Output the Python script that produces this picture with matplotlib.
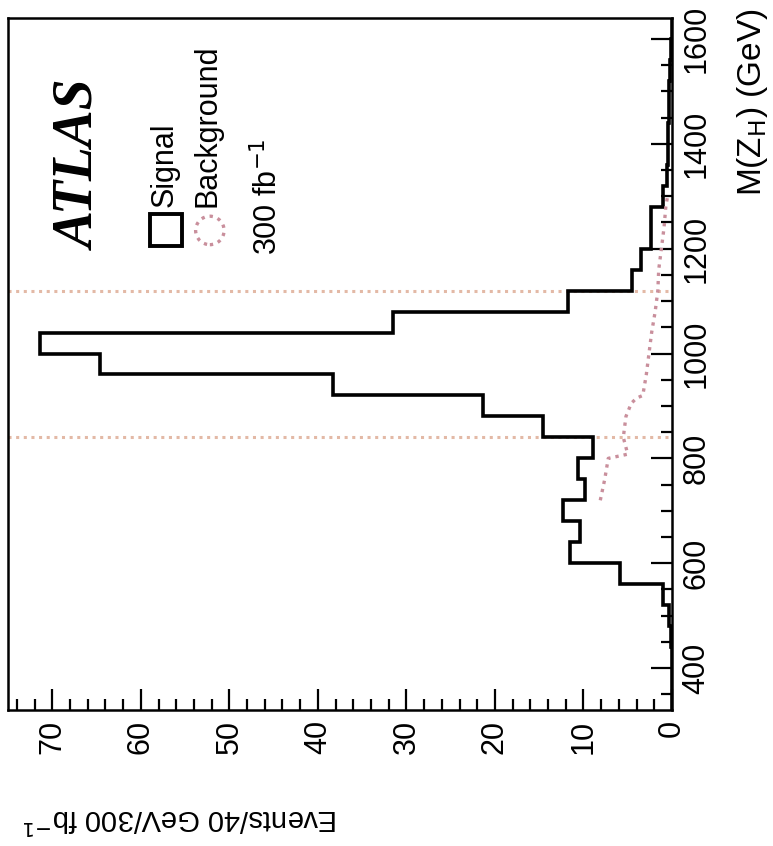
import matplotlib.pyplot as plt
from matplotlib.ticker import MultipleLocator

plt.rcParams['font.family'] = ['Liberation Sans', 'DejaVu Sans']

# M(Z_H) histogram, 40 GeV bins (lower edges + final upper edge)
bin_edges = [320, 360, 400, 440, 480, 520, 560, 600, 640, 680, 720, 760, 800,
             840, 880, 920, 960, 1000, 1040, 1080, 1120, 1160, 1200, 1240,
             1280, 1320, 1360, 1400, 1440, 1480, 1520, 1560, 1600, 1640]
signal = [0, 0, 0, 0.1, 0.3, 1.0, 5.9, 11.5, 10.4, 12.3, 9.8, 10.6, 8.9,
          14.6, 21.3, 38.3, 64.6, 71.4, 31.5, 11.7, 4.5, 3.5, 2.4, 2.4,
          1.0, 0.6, 0.5, 0.4, 0.3, 0.3, 0.2, 0.1, 0]

# background curve (dotted)
bkg_mass = [720, 760, 800, 808, 840, 880, 905, 915, 920, 960, 1000, 1040,
            1080, 1120, 1160, 1200, 1240, 1280, 1300]
bkg_events = [8.1, 7.6, 7.2, 5.0, 5.5, 5.2, 4.6, 4.0, 3.3, 2.9, 2.6, 2.3,
              1.9, 1.6, 1.5, 1.2, 0.9, 0.7, 0.5]

# mass window
window = [840, 1120]

W, H = 773, 846
fig = plt.figure(figsize=(W / 100, H / 100), dpi=100)
ax = fig.add_axes([8 / W, 1 - 710 / H, 664 / W, 692 / H])

# plot is drawn rotated: events run right-to-left, mass runs upward
ax.stairs(signal, bin_edges, orientation='horizontal', color='black', lw=2.6)
ax.plot(bkg_events, bkg_mass, ls=(0, (1, 1.5)), color='#c98f9c', lw=2.4)
for m in window:
    ax.axhline(m, ls=(0, (1, 1.5)), color='#e3b9a6', lw=2.2, zorder=0)

ax.set_xlim(75, 0)
ax.set_ylim(320, 1640)
ax.xaxis.set_major_locator(MultipleLocator(10))
ax.xaxis.set_minor_locator(MultipleLocator(2))
ax.yaxis.set_major_locator(MultipleLocator(200))
ax.yaxis.set_minor_locator(MultipleLocator(50))
ax.yaxis.tick_right()
ax.tick_params(which='both', direction='in', width=1.6, top=False, left=False)
ax.tick_params(which='major', length=15, labelsize=22, pad=7)
ax.tick_params(which='minor', length=8)
for lab in ax.get_xticklabels():
    lab.set_rotation(90)
for lab in ax.get_yticklabels():
    lab.set_rotation(90)
    lab.set_va('center')
for s in ax.spines.values():
    s.set_linewidth(1.8)

# axis titles
fig.text(753 / W, 1 - 8 / H, 'M(Z$_{\\rm H}$) (GeV)', rotation=90,
         ha='center', va='top', fontsize=24)
fig.text(180 / W, 1 - 818 / H, 'Events/40 GeV/300 fb$^{-1}$', rotation=180,
         ha='center', va='center', fontsize=21)

# ATLAS label and legend
fig.text(80 / W, 1 - 165 / H, 'ATLAS', rotation=90, ha='center', va='center',
         fontsize=40, family='Liberation Serif', weight='bold', style='italic')
ax.plot([0.238], [0.693], transform=ax.transAxes, marker='s', ms=23,
        mfc='none', mec='black', mew=2.8, clip_on=False)
ax.scatter([0.304], [0.693], transform=ax.transAxes, marker='o', s=420,
           facecolors='none', edgecolors='#c98f9c', linewidths=2.4,
           linestyles=(0, (1, 1.5)), clip_on=False)
fig.text(165 / W, 1 - 207 / H, 'Signal', rotation=90, ha='center',
         va='bottom', fontsize=22)
fig.text(208 / W, 1 - 207 / H, 'Background', rotation=90, ha='center',
         va='bottom', fontsize=22)
fig.text(268 / W, 1 - 255 / H, '300 fb$^{-1}$', rotation=90, ha='center',
         va='bottom', fontsize=22)

fig.savefig('out.png', dpi=100)
